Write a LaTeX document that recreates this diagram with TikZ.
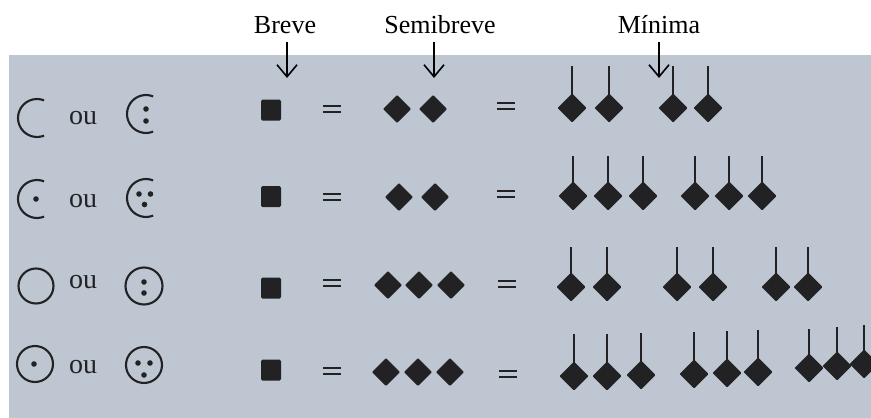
\documentclass[tikz,border=0pt]{standalone}
\usepackage{fontspec}
\setmainfont{Liberation Serif}
\usepackage{tikz}
\usetikzlibrary{arrows.meta}

\definecolor{paper}{RGB}{190,198,209}
\definecolor{ink}{RGB}{34,34,36}

\begin{document}
\begin{tikzpicture}[x=1pt,y=-1pt,
	lbl/.style={anchor=base, inner sep=0pt, font=\fontsize{26}{30}\selectfont},
	oword/.style={anchor=base, inner sep=0pt, text=ink, font=\fontsize{28}{32}\selectfont},
	arr/.style={line width=1.6pt, -{Straight Barb[length=12pt,width=20pt,line width=1.6pt]}},
	msign/.style={ink, line width=2.1pt},
	eqline/.style={ink, line width=1.7pt},
	stem/.style={ink, line width=1.7pt}]
	\useasboundingbox (0,0) rectangle (871,418);
	\fill[white] (0,0) rectangle (871,418);
	\fill[paper] (9,55) rectangle (871,418);
	% labels over the columns
	\node[lbl] (breve) at (285,33) {Breve};
	\node[lbl] (semibreve) at (440,33) {Semibreve};
	\node[lbl] (minima) at (659,33) {Mínima};
	\coordinate (btip) at (287,78);
	\coordinate (stip) at (434,78);
	\coordinate (mtip) at (659,78);
	\draw[arr, shorten <=9pt] (btip |- breve.south) -- (btip);
	\draw[arr, shorten <=9pt] (stip |- semibreve.south) -- (stip);
	\draw[arr, shorten <=9pt] (mtip |- minima.south) -- (mtip);
	% mensuration signs
	\draw[msign] (37,118) ++(68:19pt) arc[start angle=68, end angle=292, radius=19pt];
	\draw[msign] (146,114) ++(68:19pt) arc[start angle=68, end angle=292, radius=19pt];
	\draw[msign] (37,199) ++(68:19pt) arc[start angle=68, end angle=292, radius=19pt];
	\draw[msign] (146,198) ++(68:19pt) arc[start angle=68, end angle=292, radius=19pt];
	\draw[msign] (36,286) circle[radius=17.5pt];
	\draw[msign] (144,286) circle[radius=18.5pt];
	\draw[msign] (35,364) circle[radius=18pt];
	\draw[msign] (144,365) circle[radius=18pt];
	\foreach \x/\y in {146/109, 146/121, 36/199, 139/194, 150.5/194, 144.5/204.5,
		144/282, 144/293, 34/364, 138/363, 150/363, 144/375}
		\fill[ink] (\x,\y) circle[radius=2.8pt];
	\node[oword] (ou1) at (83,124) {ou};
	\node[oword] (ou2) at (83,207) {ou};
	\node[oword] (ou3) at (83,288) {ou};
	\node[oword] (ou4) at (83,373) {ou};
	% breves
	\foreach \y in {110,196.5,288,370}
		\fill[ink, rounded corners=1.5pt] (261,\y-10.5) rectangle (281,\y+10.5);
	% equal signs
	\foreach \x/\y in {332/109, 332/197, 332/283, 332/371, 506/106, 506/194, 507/284, 508/374}
		\draw[eqline] (\x-9,\y-3.3) -- (\x+9,\y-3.3) (\x-9,\y+3.3) -- (\x+9,\y+3.3);
	% semibreves
	\foreach \x/\y in {397/109, 433/109, 399/197, 435/197,
		388/285, 419/285, 451/285, 386/372, 418/372, 450/372}
		\fill[ink, rounded corners=1pt] (\x,\y) +(0,-14) -- +(14,0) -- +(0,14) -- +(-14,0) -- cycle;
	% minimas
	\foreach \x/\y/\t in {572/108/66, 609/108/66, 673/108/66, 708/108/66,
		573/196/156, 608/196/156, 643/196/156, 695/196/156, 729/196/156, 762/196/156,
		571/287/247, 607/287/247, 677/287/247, 713/287/247, 776/287/247, 808/287/247,
		574/376/334, 607/376/334, 641/375/333, 694/374/332, 727/373/331, 758/372/330,
		809/368/329, 837/366/327, 864/364/325} {
		\draw[stem] (\x,\y) -- (\x,\t);
		\fill[ink, rounded corners=1pt] (\x,\y) +(0,-14.5) -- +(14.5,0) -- +(0,14.5) -- +(-14.5,0) -- cycle;
	}
\end{tikzpicture}
\end{document}
